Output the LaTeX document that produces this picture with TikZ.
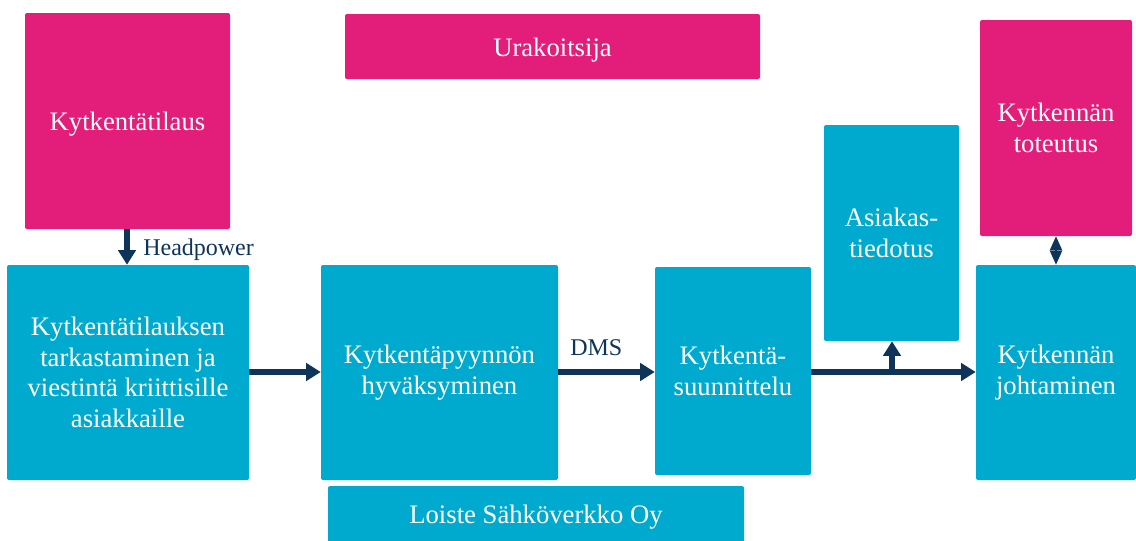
\documentclass[tikz,border=0pt]{standalone}
\usepackage{fontspec}
\setmainfont{Liberation Serif}
\usetikzlibrary{arrows.meta,fit}
\definecolor{magentabox}{RGB}{227,30,122}
\definecolor{cyanbox}{RGB}{0,170,206}
\definecolor{navy}{RGB}{14,52,90}
\tikzset{
  box/.style={rounded corners=1.5pt, inner sep=0pt},
  orderbox/.style={box, fill=magentabox},
  taskbox/.style={box, fill=cyanbox},
  boxtext/.style={text=white, align=center, inner sep=0pt,
    font=\fontsize{20}{23}\selectfont},
  flow/.style={draw=navy, line width=3.8pt, -{Triangle[length=11pt,width=13pt]}},
  both/.style={draw=navy, line width=1.5pt, {Triangle[length=10.5pt,width=9pt]}-{Triangle[length=10.5pt,width=9pt]}},
  tag/.style={text=navy, font=\fontsize{18}{21}\selectfont, inner sep=0pt}
}
\begin{document}
\begin{tikzpicture}[x=0.75pt,y=-0.75pt]
\useasboundingbox (0,0) rectangle (1136,540);

% contractor side
\node[orderbox, fit={(25,13) (230,229)}] (order) {};
\node[boxtext] (ordertext) at ([yshift=-2pt]order.center) {Kytkentätilaus};
\node[orderbox, fit={(345,14) (760,79)}] (contractor) {};
\node[boxtext] (contractortext) at ([yshift=-3pt]contractor.center) {Urakoitsija};
\node[orderbox, fit={(980,20) (1132,236)}] (exec) {};
\node[boxtext] (exectext) at (exec.center) {Kytkennän\\toteutus};

% network company side
\node[taskbox, fit={(824,125) (959,341)}] (notify) {};
\node[boxtext] (notifytext) at (notify.center) {Asiakas-\\tiedotus};
\node[taskbox, fit={(7,265) (249,480)}] (check) {};
\node[boxtext] (checktext) at (check.center) {Kytkentätilauksen\\tarkastaminen ja\\viestintä kriittisille\\asiakkaille};
\node[taskbox, fit={(321,265) (558,480)}] (approve) {};
\node[boxtext] (approvetext) at (approve.center) {Kytkentäpyynnön\\hyväksyminen};
\node[taskbox, fit={(655,267) (811,475)}] (plan) {};
\node[boxtext] (plantext) at (plan.center) {Kytkentä-\\suunnittelu};
\node[taskbox, fit={(976,265) (1136,480)}] (lead) {};
\node[boxtext] (leadtext) at (lead.center) {Kytkennän\\johtaminen};
\node[taskbox, fit={(328,486) (744,548)}] (company) {};
\node[boxtext] (companytext) at (536,517) {Loiste Sähköverkko Oy};

% connectors
\draw[flow] (order.south -| 127,0) -- (check.north -| 127,0);
\node[tag, anchor=west] (hp) at (143,250) {Headpower};
\draw[flow] (check.east |- 0,372) -- (approve.west |- 0,372);
\draw[flow] (approve.east |- 0,372) -- (plan.west |- 0,372);
\node[tag, anchor=west] (dms) at (570,348) {DMS};
\coordinate (split) at (892,372);
\draw[flow] (plan.east |- split) -- (lead.west |- split);
\draw[flow] (split) -- (notify.south -| split);
\draw[both] (exec.south -| 1056,0) -- (lead.north -| 1056,0);
\end{tikzpicture}
\end{document}
